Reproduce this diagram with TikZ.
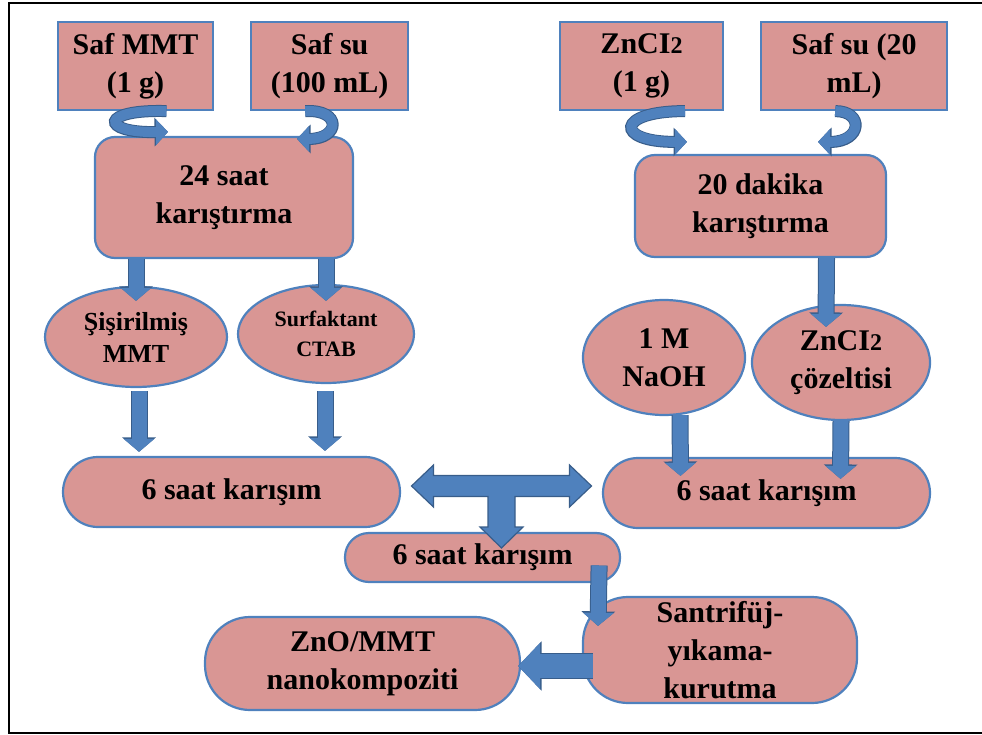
\documentclass[tikz,border=0pt]{standalone}
\usepackage{fontspec}
\setmainfont{Liberation Serif}
\usetikzlibrary{arrows.meta,shapes.geometric,positioning,calc}
\definecolor{boxred}{HTML}{D99694}
\definecolor{edgeblue}{HTML}{4F81BD}
\definecolor{arrowblue}{HTML}{4F81BD}
\definecolor{arrowedge}{HTML}{385D8A}
\newcommand{\subtwo}{{\fontsize{24}{24}\selectfont 2}}

\begin{document}
\begin{tikzpicture}[x=1pt,y=-1pt,
    base/.style={draw=edgeblue,line width=2.2pt,fill=boxred,align=center,inner sep=0pt,
      font=\fontsize{30}{38}\selectfont\bfseries},
    sq/.style={base,rectangle},
    rbox/.style={base,rounded corners=20pt},
    oval/.style={base,ellipse},
    pill/.style={base,rounded corners=#1},
    flow/.style={draw=arrowblue,line width=15pt,-{Triangle[length=13pt,width=30pt]},
      preaction={draw=arrowedge,line width=17pt,-{Triangle[length=14.5pt,width=33pt]}}},
    wide/.style={draw=arrowblue,line width=24pt,-{Triangle[length=22pt,width=45pt]},
      preaction={draw=arrowedge,line width=26pt,-{Triangle[length=23.5pt,width=48pt]}}},
    turn/.style={draw=arrowblue,line width=10pt,-{Triangle[length=12pt,width=25pt]},
      preaction={draw=arrowedge,line width=12pt,-{Triangle[length=13.5pt,width=28pt]}}},
    teearrow/.style={fill=arrowblue,draw=arrowedge,line width=1.2pt,line join=miter}]
  \useasboundingbox (0,0) rectangle (982,735);
  \draw[line width=2pt] (982,3) -- (9,3) -- (9,733) -- (982,733);

  \node[sq,minimum width=155pt,minimum height=88pt] (mmt) at (135.5,66) {Saf MMT\\(1 g)};
  \node[sq,minimum width=157pt,minimum height=88pt,right=36pt of mmt] (su100) {Saf su\\(100 mL)};
  \node[sq,minimum width=163pt,minimum height=88pt] (zncl) at (641.5,66) {ZnCI\subtwo\\(1 g)};
  \node[sq,minimum width=186pt,minimum height=88pt,right=36pt of zncl] (su20) {Saf su (20\\mL)};
  \node[rbox,minimum width=258pt,minimum height=121pt] (mix24) at (224,197.5) {24 saat\\karıştırma};
  \node[rbox,minimum width=251pt,minimum height=102pt] (mix20) at (760.5,206) {20 dakika\\karıştırma};
  \node[oval,minimum width=182pt,minimum height=100pt,font=\fontsize{26}{32}\selectfont\bfseries] (sis) at (136,337) {Şişirilmiş\\MMT};
  \node[oval,minimum width=176pt,minimum height=98pt,font=\fontsize{22}{30}\selectfont\bfseries] (surf) at (326,334) {Surfaktant\\CTAB};
  \node[oval,minimum width=162pt,minimum height=115pt] (naoh) at (664,357.5) {1 M\\NaOH};
  \node[oval,minimum width=178pt,minimum height=115pt] (zsol) at (841,362.5) {ZnCI\subtwo\\çözeltisi};
  \node[pill=35pt,minimum width=337pt,minimum height=70pt] (mixL) at (231.5,492) {6 saat karışım};
  \node[pill=35pt,minimum width=327pt,minimum height=70pt] (mixR) at (766.5,493) {6 saat karışım};
  \node[pill=24pt,minimum width=275pt,minimum height=49pt] (mixB) at (482.5,557.5) {6 saat karışım};
  \node[pill=45pt,minimum width=274pt,minimum height=106pt] (sant) at (720,650) {Santrifüj-\\yıkama-\\kurutma};
  \node[pill=45pt,minimum width=315pt,minimum height=93pt] (zno) at (362.5,663.5) {ZnO/MMT\\nanokompoziti};

  \draw[turn] ($(mmt.south)+(31,0)$) .. controls +(-67,-2) and +(-68,1) .. ($(mix24.north)+(-56,-4)$);
  \draw[turn] ($(su100.south)+(-24.5,0)$) .. controls +(37,-2) and +(43,0) .. ($(mix24.north)+(73,3)$);
  \draw[turn] ($(zncl.south)+(43.5,0)$) .. controls +(-70,0) and +(-72,0) .. ($(mix20.north)+(-73.5,-12)$);
  \draw[turn] ($(su20.south)+(-19,0)$) .. controls +(29,0) and +(44,0) .. ($(mix20.north)+(57.5,-12)$);

  \draw[flow] (mix24.south -| sis.north) -- ($(sis.north)+(0,15)$);
  \draw[flow] (mix24.south -| surf.north) -- ($(surf.north)+(0,17)$);
  \draw[flow] ($(sis.south)+(3,3)$) -- ($(mixL.north -| sis.south)+(3,-4)$);
  \draw[flow] ($(surf.south)+(-1,7)$) -- ($(mixL.north -| surf.south)+(-1,-5)$);
  \draw[flow] ($(mix20.south)+(66,0)$) -- ($(zsol.north)+(-15,23)$);
  \draw[flow] ($(naoh.south)+(16,-1)$) -- ($(mixR.north)+(-86,19)$);
  \draw[flow] (zsol.south) -- ($(mixR.north)+(74,22)$);
  \draw[flow] ($(mixB.east)+(-22,8)$) -- ($(sant.north)+(-122,30)$);
  \draw[wide] ($(sant.west)+(11,16)$) -- ($(zno.east)+(-3,2.5)$);

  \coordinate (tee) at ($(mixL.east)!0.5!(mixR.west)+(0,-6.5)$);
  \draw[teearrow,shift={(tee)}] (-90,0) -- (-68,-21) -- (-68,-10.5) -- (68,-10.5) -- (68,-21)
    -- (90,0) -- (68,21) -- (68,10.5) -- (13.5,10.5) -- (13.5,41) -- (21.5,41) -- (0,62)
    -- (-21.5,41) -- (-13.5,41) -- (-13.5,10.5) -- (-68,10.5) -- (-68,21) -- cycle;
\end{tikzpicture}
\end{document}
